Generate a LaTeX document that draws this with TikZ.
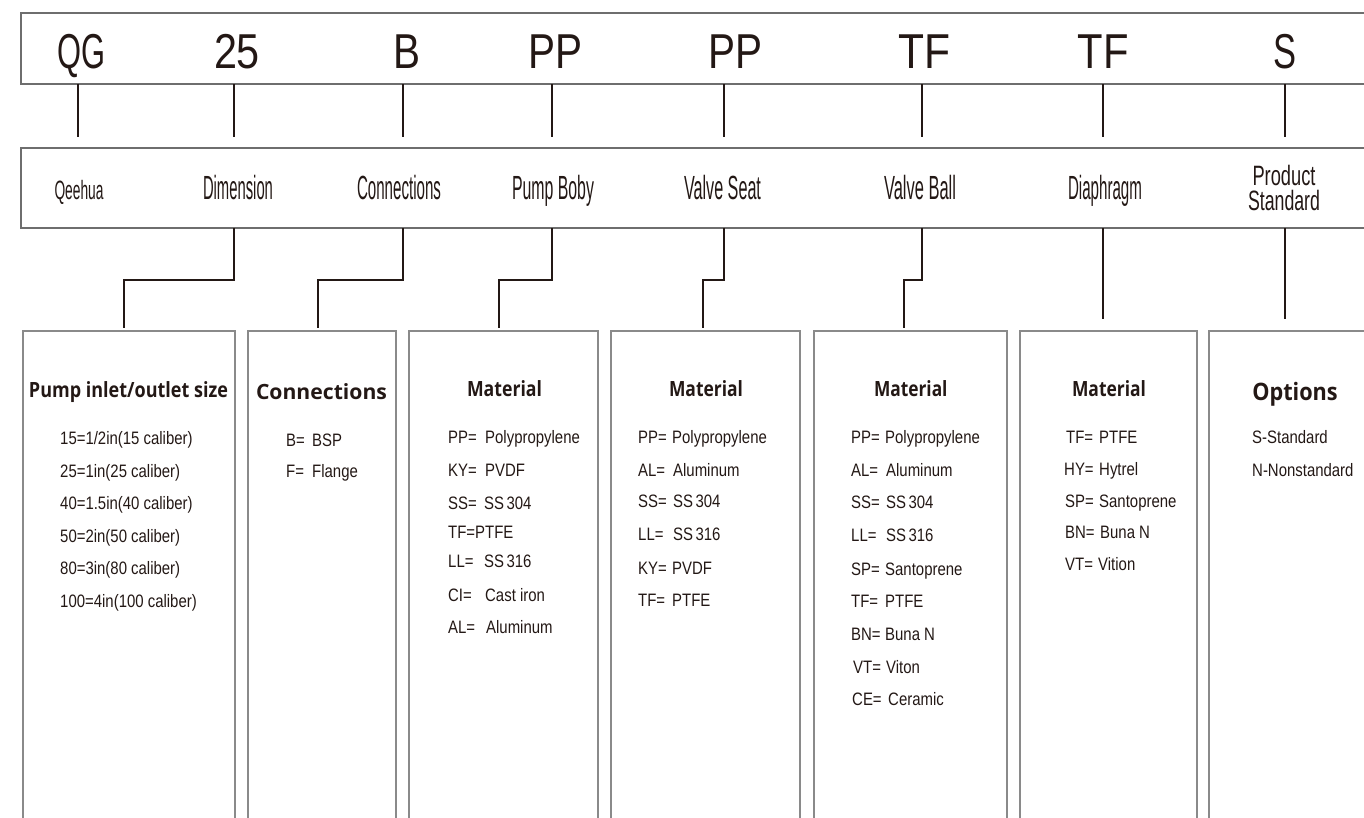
\documentclass[tikz,border=0pt]{standalone}
\usepackage{fontspec}
\usepackage{graphicx}
\setmainfont{Liberation Sans}
\newfontfamily\titlefont{Open Sans}
\definecolor{ink}{HTML}{231815}
\definecolor{barc}{HTML}{6E6E6E}
\definecolor{boxc}{HTML}{8A8A8A}
\newcommand\fitw[2]{\resizebox{#1pt}{\height}{#2}}
\newcommand\ns[1]{\scalebox{0.83}[1]{#1}}
\newcommand\kv[3]{\makebox[#1pt][l]{\ns{#2}}\ns{#3}}
\tikzset{
  code/.style={anchor=base, inner sep=0pt, font=\fontsize{49}{49}\selectfont, text=ink},
  lab/.style={anchor=base, inner sep=0pt, font=\fontsize{33.5}{33.5}\selectfont, text=ink},
  ttl/.style={anchor=base, inner sep=0pt, font=\titlefont\bfseries\fontsize{21}{21}\selectfont, text=ink},
  item/.style={anchor=base west, inner sep=0pt, font=\fontsize{18}{18}\selectfont, text=ink},
  bar/.style={draw=barc, line width=1.3pt, inner sep=0pt, outer sep=0pt},
  colbox/.style={draw=boxc, line width=1.2pt, inner sep=0pt, outer sep=0pt},
  link/.style={draw=ink, line width=1.6pt},
}
\begin{document}
\begin{tikzpicture}[x=1pt, y=-1pt]
\useasboundingbox (0,0) rectangle (1364,817);
\clip (0,0) rectangle (1364,817);
% bars
\node[bar, minimum width=1359pt, minimum height=71pt] (topbar) at (700.5,48.5) {};
\node[bar, minimum width=1359pt, minimum height=80pt] (midbar) at (700.5,188) {};
% top codes
\node[code] (c1) at (81,68) {\fitw{48}{QG}};
\node[code] (c2) at (237,68) {\fitw{46}{25}};
\node[code] (c3) at (406.5,68) {\fitw{27}{B}};
\node[code] (c4) at (555,68) {\fitw{54}{PP}};
\node[code] (c5) at (735,68) {\fitw{54}{PP}};
\node[code] (c6) at (924,68) {\fitw{52}{TF}};
\node[code] (c7) at (1103,68) {\fitw{51}{TF}};
\node[code] (c8) at (1284.5,68) {\fitw{23}{S}};
% middle labels
\node[lab, font=\fontsize{26.5}{26.5}\selectfont] (m1) at (79,199) {\fitw{49}{Qeehua}};
\node[lab] (m2) at (238,199) {\fitw{70}{Dimension}};
\node[lab] (m3) at (399,199) {\fitw{84}{Connections}};
\node[lab] (m4) at (553,199) {\fitw{82}{Pump Boby}};
\node[lab] (m5) at (722.5,199) {\fitw{77}{Valve Seat}};
\node[lab] (m6) at (920,199) {\fitw{72}{Valve Ball}};
\node[lab] (m7) at (1105,199) {\fitw{74}{Diaphragm}};
\node[lab, font=\fontsize{28}{25}\selectfont, align=center] (m8) at (1284,210) {\fitw{63}{Product}\\\fitw{72}{Standard}};
% tick x positions
\coordinate (x1) at (78,0);
\coordinate (x2) at (234,0);
\coordinate (x3) at (403,0);
\coordinate (x4) at (552,0);
\coordinate (x5) at (724,0);
\coordinate (x6) at (922,0);
\coordinate (x7) at (1103,0);
\coordinate (x8) at (1285,0);
\foreach \i in {1,...,8}{
  \draw[link, shorten >=11pt] (topbar.south -| x\i) -- (midbar.north -| x\i);
}
% boxes
\node[colbox, minimum width=212pt, minimum height=509pt] (b1) at (129,585.5) {};
\node[colbox, minimum width=148pt, minimum height=509pt] (b2) at (322,585.5) {};
\node[colbox, minimum width=189pt, minimum height=509pt] (b3) at (503.5,585.5) {};
\node[colbox, minimum width=189pt, minimum height=509pt] (b4) at (705.5,585.5) {};
\node[colbox, minimum width=193pt, minimum height=509pt] (b5) at (910.5,585.5) {};
\node[colbox, minimum width=177pt, minimum height=509pt] (b6) at (1108.5,585.5) {};
\node[colbox, minimum width=191pt, minimum height=509pt] (b7) at (1304.5,585.5) {};
% elbow end x positions
\coordinate (k1) at (124,0);
\coordinate (k2) at (318,0);
\coordinate (k3) at (499,0);
\coordinate (k4) at (703,0);
\coordinate (k5) at (904,0);
\draw[link, shorten >=3pt] (midbar.south -| x2) -- ++(0,52) -| (b1.north -| k1);
\draw[link, shorten >=3pt] (midbar.south -| x3) -- ++(0,52) -| (b2.north -| k2);
\draw[link, shorten >=3pt] (midbar.south -| x4) -- ++(0,52) -| (b3.north -| k3);
\draw[link, shorten >=3pt] (midbar.south -| x5) -- ++(0,52) -| (b4.north -| k4);
\draw[link, shorten >=3pt] (midbar.south -| x6) -- ++(0,52) -| (b5.north -| k5);
\draw[link, shorten >=12pt] (midbar.south -| x7) -- (b6.north -| x7);
\draw[link, shorten >=12pt] (midbar.south -| x8) -- (b7.north -| x8);
% titles
\node[ttl] (t1) at (128.5,397) {\fitw{199}{Pump inlet/outlet size}};
\node[ttl] (t2) at (321.5,399) {\fitw{131}{Connections}};
\node[ttl] (t3) at (504.5,396) {\fitw{75}{Material}};
\node[ttl] (t4) at (706,396) {\fitw{74}{Material}};
\node[ttl] (t5) at (910.75,396) {\fitw{73.5}{Material}};
\node[ttl] (t6) at (1109,396) {\fitw{74}{Material}};
\node[ttl, font=\titlefont\bfseries\fontsize{24}{24}\selectfont] (t7) at (1295,400) {\fitw{85.5}{Options}};
% box 1 items
\node[item] (i11) at (60,444) {\ns{15=1/2in(15 caliber)}};
\node[item] (i12) at (60,477) {\ns{25=1in(25 caliber)}};
\node[item] (i13) at (60,509) {\ns{40=1.5in(40 caliber)}};
\node[item] (i14) at (60,542) {\ns{50=2in(50 caliber)}};
\node[item] (i15) at (60,574) {\ns{80=3in(80 caliber)}};
\node[item] (i16) at (60,607) {\ns{100=4in(100 caliber)}};
% box 2 items
\node[item] (i21) at (286,446) {\kv{26}{B=}{BSP}};
\node[item] (i22) at (286,477) {\kv{26}{F=}{Flange}};
% box 3 items
\node[item] (i31) at (448,443) {\kv{37}{PP=}{Polypropylene}};
\node[item] (i32) at (448,476) {\kv{37}{KY=}{PVDF}};
\node[item] (i33) at (448,509) {\kv{36}{SS=}{SS\,304}};
\node[item] (i34) at (448,538) {\ns{TF=PTFE}};
\node[item] (i35) at (448,567) {\kv{36}{LL=}{SS\,316}};
\node[item] (i36) at (448,601) {\kv{37}{CI=}{Cast iron}};
\node[item] (i37) at (448,633) {\kv{38}{AL=}{Aluminum}};
% box 4 items
\node[item] (i41) at (638,443) {\kv{34}{PP=}{Polypropylene}};
\node[item] (i42) at (638,476) {\kv{35}{AL=}{Aluminum}};
\node[item] (i43) at (638,507) {\kv{35}{SS=}{SS\,304}};
\node[item] (i44) at (638,540) {\kv{35}{LL=}{SS\,316}};
\node[item] (i45) at (638,574) {\kv{34}{KY=}{PVDF}};
\node[item] (i46) at (638,606) {\kv{34}{TF=}{PTFE}};
% box 5 items
\node[item] (i51) at (851,443) {\kv{34}{PP=}{Polypropylene}};
\node[item] (i52) at (851,476) {\kv{35}{AL=}{Aluminum}};
\node[item] (i53) at (851,508) {\kv{35}{SS=}{SS\,304}};
\node[item] (i54) at (851,541) {\kv{35}{LL=}{SS\,316}};
\node[item] (i55) at (851,575) {\kv{34}{SP=}{Santoprene}};
\node[item] (i56) at (851,607) {\kv{34}{TF=}{PTFE}};
\node[item] (i57) at (851,640) {\kv{34}{BN=}{Buna N}};
\node[item] (i58) at (853,673) {\kv{33}{VT=}{Viton}};
\node[item] (i59) at (852,705) {\kv{36}{CE=}{Ceramic}};
% box 6 items
\node[item] (i61) at (1066,443) {\kv{33}{TF=}{PTFE}};
\node[item] (i62) at (1064,475) {\kv{35}{HY=}{Hytrel}};
\node[item] (i63) at (1065,507) {\kv{34}{SP=}{Santoprene}};
\node[item] (i64) at (1065,538) {\kv{35}{BN=}{Buna N}};
\node[item] (i65) at (1065,570) {\kv{33}{VT=}{Vition}};
% box 7 items
\node[item] (i71) at (1252,443) {\ns{S-Standard}};
\node[item] (i72) at (1252,476) {\ns{N-Nonstandard}};
\end{tikzpicture}
\end{document}
